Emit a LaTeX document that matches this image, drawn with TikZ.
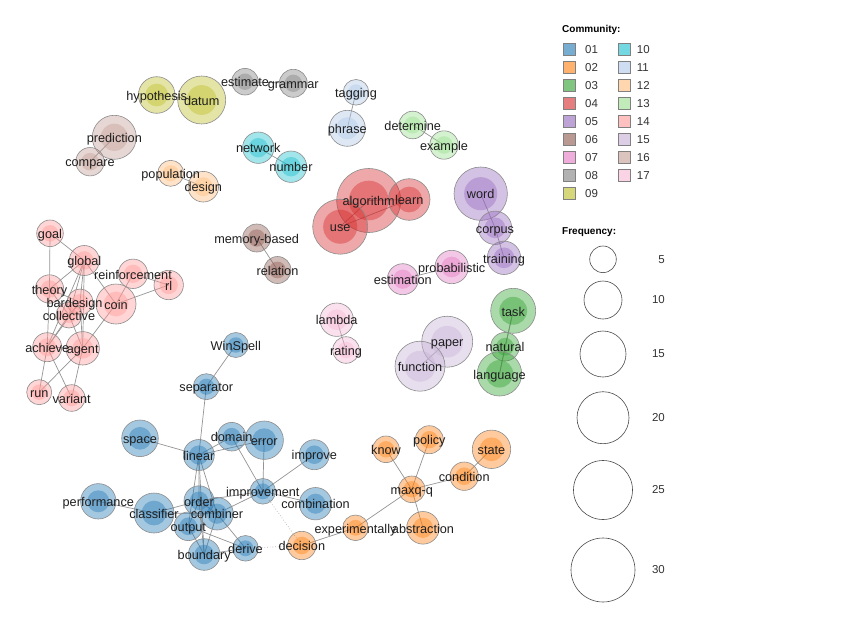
\documentclass[tikz,border=0pt]{standalone}
\usepackage{fontspec}
\setmainfont{Liberation Sans}
\pgfdeclarelayer{edges}
\pgfdeclarelayer{labels}
\pgfsetlayers{edges,main,labels}
\definecolor{c01}{HTML}{1F77B4}
\definecolor{c02}{HTML}{FF7F0E}
\definecolor{c03}{HTML}{2CA02C}
\definecolor{c04}{HTML}{D62728}
\definecolor{c05}{HTML}{9467BD}
\definecolor{c06}{HTML}{8C564B}
\definecolor{c07}{HTML}{E377C2}
\definecolor{c08}{HTML}{7F7F7F}
\definecolor{c09}{HTML}{BCBD22}
\definecolor{c10}{HTML}{17BECF}
\definecolor{c11}{HTML}{AEC7E8}
\definecolor{c12}{HTML}{FFBB78}
\definecolor{c13}{HTML}{98DF8A}
\definecolor{c14}{HTML}{FF9896}
\definecolor{c15}{HTML}{C5B0D5}
\definecolor{c16}{HTML}{C49C94}
\definecolor{c17}{HTML}{F7B6D2}
\tikzset{
  wn/.style={circle, draw=black!45, line width=0.6pt, fill opacity=0.4, inner sep=0pt},
  lab/.style={font=\fontsize{12.7}{14}\selectfont, text=black!88, inner sep=0pt, anchor=base},
  edge/.style={draw=black!42, line width=0.7pt},
  dotedge/.style={draw=black!30, line width=0.7pt, dotted},
  sq/.style={rectangle, minimum size=12pt, inner sep=0pt, draw=black!50, line width=0.6pt, fill opacity=0.6},
  leglab/.style={font=\fontsize{11.5}{13}\selectfont, text=black!80, inner sep=0pt},
  legtitle/.style={font=\bfseries\fontsize{10}{12}\selectfont, inner sep=0pt},
  fc/.style={circle, draw=black!70, line width=0.6pt, inner sep=0pt}
}
\newcommand{\wnode}[7][0]{%
  \node[wn, fill=#6, minimum size={2*#5}] (#2) at (#3,#4) {};
  \fill[#6, opacity=0.4] (#2.center) circle[radius={0.62*#5}];
  \begin{pgfonlayer}{labels}\node[lab] (#2-l) at ([xshift=#1pt,yshift=-5.2pt]#2.center) {#7};\end{pgfonlayer}
}
\begin{document}
\begin{tikzpicture}[x=1pt,y=-1pt]
\useasboundingbox (0,0) rectangle (853,640);
\begin{pgfonlayer}{edges}
\fill[white] (0,0) rectangle (853,640);
\end{pgfonlayer}
% community 01
\wnode{WinSpell}{235.8}{345}{12.5}{c01}{WinSpell}
\wnode{separator}{206.3}{386.7}{13}{c01}{separator}
\wnode{space}{140}{438.3}{18.3}{c01}{space}
\wnode{linear}{198.8}{455}{15.5}{c01}{linear}
\wnode{domain}{231.7}{436.7}{14.3}{c01}{domain}
\wnode{error}{264.2}{440.2}{19.2}{c01}{error}
\wnode{improve}{314.3}{454.7}{15}{c01}{improve}
\wnode{improvement}{262.8}{491.3}{12.8}{c01}{improvement}
\wnode{combination}{315.5}{503.7}{16.2}{c01}{combination}
\wnode{performance}{98.3}{501.3}{17.7}{c01}{performance}
\wnode{classifier}{154}{513}{20}{c01}{classifier}
\wnode{order}{199}{500.8}{15}{c01}{order}
\wnode{combiner}{217}{513.7}{16.3}{c01}{combiner}
\wnode{output}{188.3}{526.3}{14.3}{c01}{output}
\wnode{derive}{245.5}{548.3}{12.8}{c01}{derive}
\wnode{boundary}{204.2}{554.5}{15.8}{c01}{boundary}
% community 02
\wnode{decision}{301.8}{545.5}{14.2}{c02}{decision}
\wnode{experimentally}{355.5}{527.8}{12.8}{c02}{experimentally}
\wnode{maxqq}{411.7}{489.3}{13.3}{c02}{maxq-q}
\wnode{know}{386}{449.3}{13.3}{c02}{know}
\wnode{policy}{429.3}{439.7}{14}{c02}{policy}
\wnode{state}{491.5}{449.3}{19.2}{c02}{state}
\wnode{condition}{464.2}{476.2}{14.2}{c02}{condition}
\wnode{abstraction}{423}{527.8}{16.3}{c02}{abstraction}
% community 03
\wnode{task}{513.2}{310.8}{22.5}{c03}{task}
\wnode{natural}{505}{346.7}{14.3}{c03}{natural}
\wnode{language}{499.5}{373.8}{22.2}{c03}{language}
% community 04
\wnode{algorithm}{368.7}{200.5}{32}{c04}{algorithm}
\wnode{learn}{409.2}{199.5}{20.8}{c04}{learn}
\wnode{use}{340.2}{226.7}{27.5}{c04}{use}
% community 05
\wnode{word}{480.7}{193.7}{26.7}{c05}{word}
\wnode{corpus}{495}{227.8}{16.7}{c05}{corpus}
\wnode{training}{504}{257.8}{16.7}{c05}{training}
% community 06
\wnode{membased}{256.7}{238}{14}{c06}{memory-based}
\wnode{relation}{277.5}{270}{13.5}{c06}{relation}
% community 07
\wnode{probabilistic}{451.7}{267}{16.7}{c07}{probabilistic}
\wnode{estimation}{402.8}{279.2}{15.5}{c07}{estimation}
% community 08
\wnode{estimate}{245}{81.7}{13.3}{c08}{estimate}
\wnode{grammar}{293.3}{83.3}{14}{c08}{grammar}
% community 09
\wnode{hypothesis}{156.7}{95}{18.3}{c09}{hypothesis}
\wnode{datum}{201.7}{100}{24}{c09}{datum}
% community 10
\wnode{network}{258.3}{147.7}{15.7}{c10}{network}
\wnode{number}{291}{166.7}{15.7}{c10}{number}
% community 11
\wnode{tagging}{356}{92.3}{12.8}{c11}{tagging}
\wnode{phrase}{347.3}{128.3}{18}{c11}{phrase}
% community 12
\wnode{population}{170.7}{173.3}{13}{c12}{population}
\wnode{design}{203.3}{186.7}{15.3}{c12}{design}
% community 13
\wnode{determine}{412.7}{125}{13.8}{c13}{determine}
\wnode{example}{444}{145}{14.2}{c13}{example}
% community 14
\wnode{goal}{50}{233.3}{13.3}{c14}{goal}
\wnode{global}{84.3}{260.5}{15}{c14}{global}
\wnode{reinforcement}{133}{273.8}{14.7}{c14}{reinforcement}
\wnode{rl}{168.7}{285}{14.7}{c14}{rl}
\wnode{theory}{49.5}{289}{14.2}{c14}{theory}
\wnode{coin}{116}{304}{20}{c14}{coin}
\wnode[-5.5]{bardesign}{80}{302}{13}{c14}{bardesign}
\wnode{collective}{69}{315}{13}{c14}{collective}
\wnode{achieve}{47.2}{347.2}{14.5}{c14}{achieve}
\wnode{agent}{82.7}{348.3}{16.7}{c14}{agent}
\wnode{run}{39.2}{392.2}{12.5}{c14}{run}
\wnode{variant}{71.7}{398}{13.3}{c14}{variant}
% community 15
\wnode{paper}{447.2}{341.7}{25.5}{c15}{paper}
\wnode{function}{420}{366.2}{25}{c15}{function}
% community 16
\wnode{prediction}{114.3}{137.3}{22}{c16}{prediction}
\wnode{compare}{90}{161.7}{14.2}{c16}{compare}
% community 17
\wnode{lambda}{336.7}{319.7}{16.7}{c17}{lambda}
\wnode{rating}{346}{350}{13.3}{c17}{rating}
% edges
\begin{pgfonlayer}{edges}
\foreach \a/\b in {WinSpell/separator, separator/linear, space/linear, linear/domain, linear/error,
  domain/improvement, error/improvement, improvement/improve, improvement/combination,
  improvement/order, improvement/combiner, linear/order, linear/combiner, linear/boundary, linear/output,
  performance/classifier, classifier/order, classifier/combiner, order/combiner, order/output,
  order/boundary, combiner/boundary, output/boundary, output/derive, combiner/derive, boundary/derive,
  decision/experimentally, experimentally/maxqq, know/maxqq, policy/maxqq, condition/maxqq,
  condition/state, maxqq/abstraction,
  task/natural, natural/language, task/language,
  algorithm/learn, algorithm/use, use/learn,
  word/corpus, corpus/training,
  membased/relation, probabilistic/estimation, estimate/grammar, hypothesis/datum,
  network/number, tagging/phrase, population/design, determine/example,
  paper/function, prediction/compare, lambda/rating,
  goal/theory, goal/global, global/theory, global/bardesign, global/collective, global/agent,
  global/achieve, global/coin, reinforcement/coin, reinforcement/rl, coin/rl, coin/agent,
  theory/bardesign, theory/collective, theory/achieve, bardesign/collective, bardesign/agent,
  bardesign/achieve, collective/achieve, collective/agent, achieve/agent, achieve/run,
  achieve/variant, agent/run, agent/variant}
  \draw[edge] (\a.center) -- (\b.center);
\draw[dotedge] (improvement.center) -- (decision.center);
\draw[dotedge] (derive.center) -- (decision.center);
\end{pgfonlayer}
% legend: community
\node[legtitle, anchor=west] (commtitle) at (562,30) {Community:};
\foreach \n [count=\k from 0] in {01,02,03,04,05,06,07,08,09} {
  \node[sq, fill=c\n] (sq\n) at (569.5,{49.3+18*\k}) {};
  \node[leglab, anchor=west] (sql\n) at (585,{49.3+18*\k}) {\n};
}
\foreach \n [count=\k from 0] in {10,11,12,13,14,15,16,17} {
  \node[sq, fill=c\n] (sq\n) at (624.5,{49.3+18*\k}) {};
  \node[leglab, anchor=west] (sql\n) at (636.7,{49.3+18*\k}) {\n};
}
% legend: frequency
\node[legtitle, anchor=west] (freqtitle) at (562,232) {Frequency:};
\foreach \f/\y/\r in {5/259.3/13.3, 10/300/19, 15/354/23, 20/417.7/26, 25/490/29.5, 30/570/32} {
  \node[fc, minimum size={2*\r}] (fr\f) at (603,\y) {};
  \node[leglab, anchor=east] (frl\f) at (665,\y) {\f};
}
\end{tikzpicture}
\end{document}
